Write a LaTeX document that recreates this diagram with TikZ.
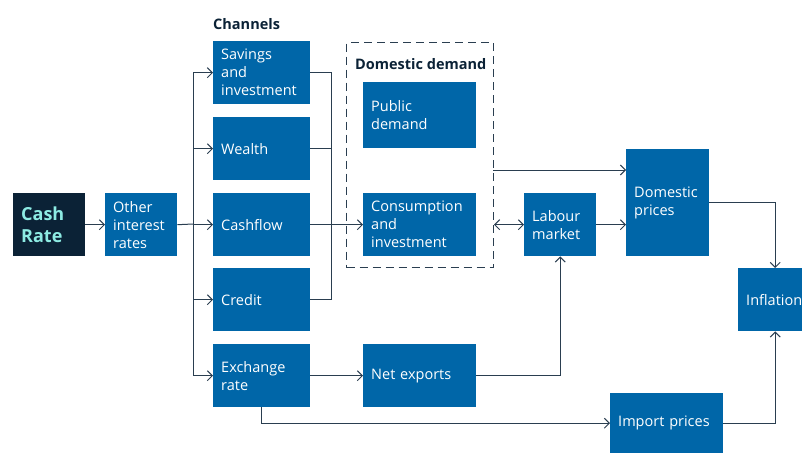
\documentclass[tikz,border=0pt]{standalone}
\usepackage{fontspec}
\setmainfont{Open Sans}
\usetikzlibrary{arrows.meta,calc}
\definecolor{boxblue}{HTML}{0066A8}
\definecolor{navy}{HTML}{0B2236}
\definecolor{linec}{HTML}{2A3E50}
\definecolor{cyantext}{HTML}{8DEBE3}
\tikzset{
  bx/.style={fill=boxblue, text=white, anchor=north west, inner ysep=0pt, inner xsep=8pt,
    align=left, font=\fontsize{14.5}{18}\selectfont},
  conn/.style={draw=linec, line width=1pt},
  arr/.style={conn, -{Straight Barb[length=5pt,width=10pt]}},
  darr/.style={conn, {Straight Barb[length=5pt,width=10pt]}-{Straight Barb[length=5pt,width=10pt]}},
  ttl/.style={text=navy, font=\bfseries\fontsize{14.5}{17}\selectfont, anchor=south west, inner sep=0pt},
}
\begin{document}
\begin{tikzpicture}[x=1pt,y=-1pt]
\useasboundingbox (0,0) rectangle (802,453);
% nodes
\node[bx, fill=navy, text=cyantext, font=\fontsize{18}{22}\selectfont\bfseries, text width=56pt, minimum height=63pt] (cr) at (13,193) {Cash\\Rate};
\node[bx, text width=56pt, minimum height=63pt] (oir) at (105,193) {Other\\interest\\rates};
\node[ttl] (chtitle) at (213,30) {Channels};
\node[bx, text width=81pt, minimum height=63pt] (sav) at (213,41) {Savings\\and\\investment};
\node[bx, text width=81pt, minimum height=63pt] (wea) at (213,117) {Wealth};
\node[bx, text width=81pt, minimum height=63pt] (cas) at (213,193) {Cashflow};
\node[bx, text width=81pt, minimum height=63pt] (cre) at (213,268) {Credit};
\node[bx, text width=81pt, minimum height=63pt] (exr) at (213,344) {Exchange\\rate};
\node[draw=linec, line width=1pt, dash pattern=on 8pt off 5pt, anchor=north west, minimum width=147pt, minimum height=225pt, inner sep=0pt] (dd) at (346,42) {};
\node[ttl] (ddtitle) at (355,70) {Domestic demand};
\node[bx, text width=97pt, minimum height=66pt] (pub) at (363,82) {Public\\demand};
\node[bx, text width=97pt, minimum height=63pt] (con) at (363,193) {Consumption\\and\\investment};
\node[bx, text width=97pt, minimum height=63pt] (nex) at (363,344) {Net exports};
\node[bx, text width=56pt, minimum height=63pt] (lab) at (524,193) {Labour\\market};
\node[bx, text width=67pt, minimum height=107pt] (dom) at (626,149) {Domestic\\prices};
\node[bx, text width=58pt, minimum height=63pt] (inf) at (738,268) {Inflation};
\node[bx, text width=97pt, minimum height=60pt] (imp) at (610,393) {Import prices};
% coordinates
\coordinate (busl) at (193,224);
\coordinate (busr) at (331,224);
\coordinate (ddout) at (493,170);
% connectors
\draw[arr] (cr.east) -- (oir.west);
\draw[conn] (oir.east) -- (busl);
\draw[conn] (busl |- sav.west) -- (busl |- exr.west);
\foreach \n in {sav,wea,cas,cre,exr} \draw[arr] (busl |- \n.west) -- (\n.west);
\draw[conn] (sav.east) -| (busr |- cre.east) -- (cre.east);
\draw[conn] (wea.east) -- (busr |- wea.east);
\draw[arr] (cas.east) -- (con.west);
\draw[arr] (ddout) -- (ddout -| dom.west);
\draw[darr] (dd.east |- lab.west) -- (lab.west);
\draw[arr] (lab.east) -- (lab.east -| dom.west);
\draw[arr] (dom.east) -| (inf.north);
\draw[arr] (exr.east) -- (nex.west);
\draw[arr] (nex.east) -| (lab.south);
\draw[arr] (exr.south) |- (imp.west);
\draw[arr] (imp.east) -| (inf.south);
\end{tikzpicture}
\end{document}
